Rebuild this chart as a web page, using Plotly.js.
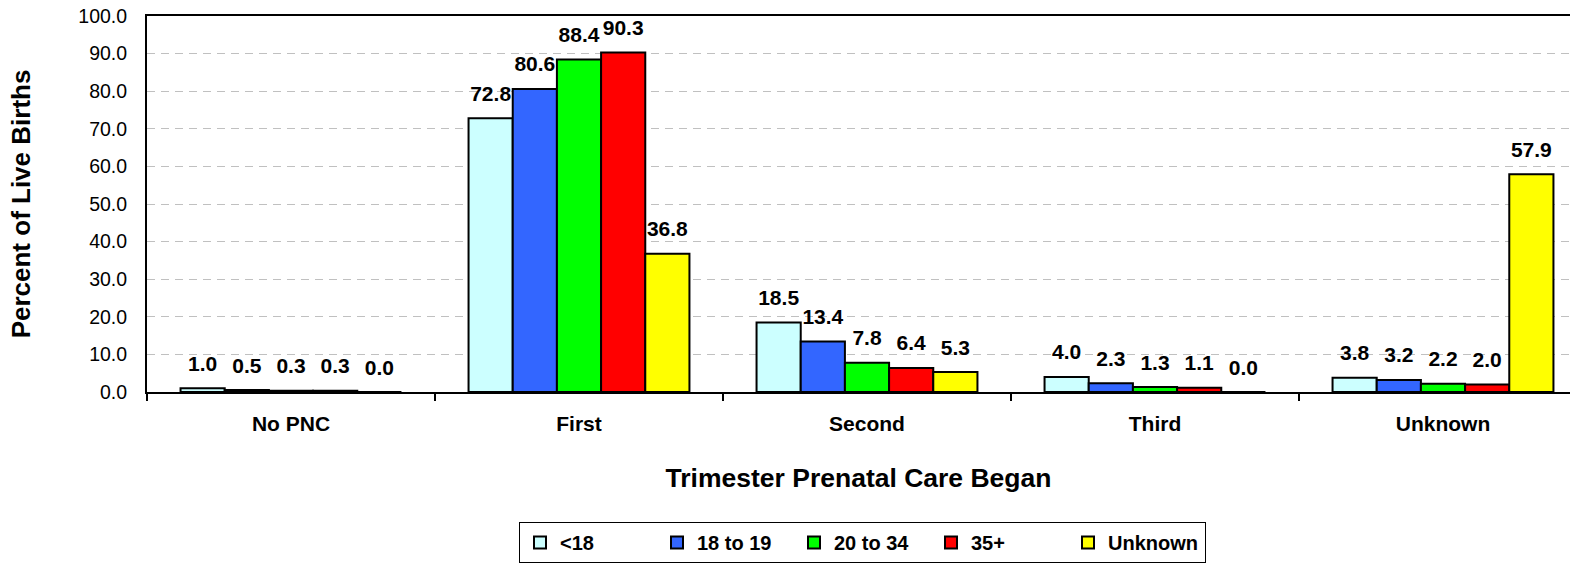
<!DOCTYPE html>
<html>
<head>
<meta charset="utf-8">
<script src="https://cdn.plot.ly/plotly-3.0.1.min.js"></script>
<style>
html, body { margin: 0; padding: 0; background: #ffffff; }
#chart { width: 1570px; height: 563px; }
</style>
</head>
<body>
<div id="chart"></div>
<script>
// ---- data ----
const categories = ['No PNC', 'First', 'Second', 'Third', 'Unknown'];
const seriesNames = ['<18', '18 to 19', '20 to 34', '35+', 'Unknown'];
const under18    = [1.0, 72.8, 18.5, 4.0, 3.8];
const age18to19  = [0.5, 80.6, 13.4, 2.3, 3.2];
const age20to34  = [0.3, 88.4, 7.8, 1.3, 2.2];
const age35plus  = [0.3, 90.3, 6.4, 1.1, 2.0];
const ageUnknown = [0.0, 36.8, 5.3, 0.0, 57.9];
const yTickValues = [0, 10, 20, 30, 40, 50, 60, 70, 80, 90, 100];

const seriesValues = [under18, age18to19, age20to34, age35plus, ageUnknown];
const seriesColors = ['#CCFFFF', '#3366FF', '#00FF00', '#FF0000', '#FFFF00'];

const FONT = '"Liberation Sans", Arial, Helvetica, sans-serif';
const GAP = 0.233;

const traces = [];
seriesValues.forEach(function (vals, i) {
  traces.push({
    type: 'bar',
    name: seriesNames[i],
    x: categories,
    y: vals,
    offsetgroup: 'g' + i,
    marker: { color: seriesColors[i], line: { color: '#000000', width: 2 } },
    hovertemplate: '%{x}<br>' + seriesNames[i] + ': %{y:.1f}<extra></extra>'
  });
});
// value labels, grouped like the bars, lifted above the bar tops
seriesValues.forEach(function (vals, i) {
  traces.push({
    type: 'scatter',
    mode: 'markers+text',
    x: categories,
    y: vals,
    offsetgroup: 'g' + i,
    showlegend: false,
    hoverinfo: 'skip',
    cliponaxis: false,
    marker: { size: vals.map(function () { return 18; }), color: 'rgba(0,0,0,0)', line: { width: 0 } },
    texttemplate: '%{y:.1f}',
    textposition: 'top center',
    textfont: { family: FONT, size: 21, color: '#000000', weight: 700 }
  });
});

const layout = {
  width: 1570,
  height: 563,
  margin: { l: 147, r: 0, t: 16, b: 170, pad: 0 },
  paper_bgcolor: '#ffffff',
  plot_bgcolor: '#ffffff',
  font: { family: FONT, color: '#000000' },
  barmode: 'group',
  bargap: GAP,
  bargroupgap: 0,
  scattermode: 'group',
  scattergap: GAP,
  showlegend: true,
  legend: {
    orientation: 'h',
    x: (519 - 147) / 1423,
    xanchor: 'left',
    y: -(523 - 393) / 377,
    yanchor: 'top',
    bordercolor: '#000000',
    borderwidth: 1,
    bgcolor: '#ffffff',
    entrywidth: 92,
    entrywidthmode: 'pixels',
    font: { family: FONT, size: 20, color: '#000000', weight: 700 }
  },
  xaxis: {
    type: 'category',
    range: [-0.5, -0.5 + 1423 / 288],
    showline: true,
    linecolor: '#000000',
    linewidth: 2,
    mirror: true,
    ticks: 'outside',
    tickson: 'boundaries',
    ticklen: 7,
    tickwidth: 2,
    tickcolor: '#000000',
    ticklabelstandoff: 12,
    showgrid: false,
    zeroline: false,
    tickfont: { family: FONT, size: 21, color: '#000000', weight: 700 },
    title: {
      text: 'Trimester Prenatal Care Began',
      font: { family: FONT, size: 26.5, color: '#000000', weight: 700 },
      standoff: 34
    }
  },
  yaxis: {
    range: [0, 100],
    tickmode: 'array',
    tickvals: yTickValues,
    tickformat: '.1f',
    showline: true,
    linecolor: '#000000',
    linewidth: 2,
    ticks: '',
    ticklabelstandoff: 14,
    showgrid: true,
    gridcolor: '#c0c0c0',
    gridwidth: 1,
    griddash: '8px,6px',
    zeroline: false,
    tickfont: { family: FONT, size: 19.5, color: '#000000' },
    title: {
      text: 'Percent of Live Births',
      font: { family: FONT, size: 26, color: '#000000', weight: 700 },
      standoff: 40
    }
  }
};

Plotly.newPlot('chart', traces, layout, { displayModeBar: false, responsive: false });
</script>
</body>
</html>
